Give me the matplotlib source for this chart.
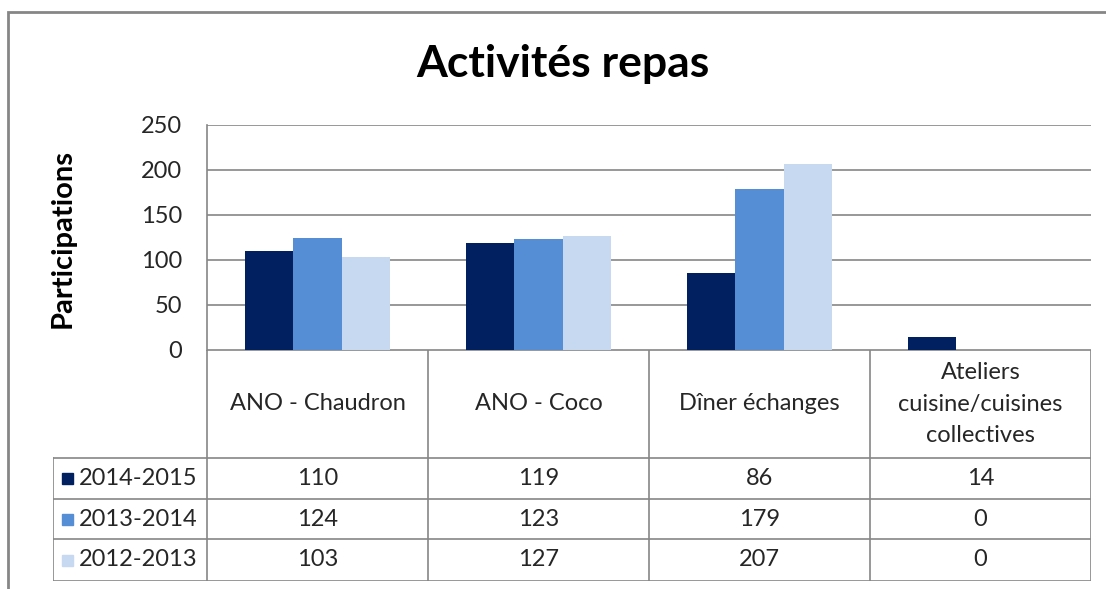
import matplotlib.pyplot as plt
from matplotlib.patches import Rectangle
import numpy as np

plt.rcParams['font.family'] = ['Lato', 'DejaVu Sans']

categories = ['ANO - Chaudron', 'ANO - Coco', 'Dîner échanges',
              'Ateliers\ncuisine/cuisines\ncollectives']
series = ['2014-2015', '2013-2014', '2012-2013']
v_2014_2015 = [110, 119, 86, 14]
v_2013_2014 = [124, 123, 179, 0]
v_2012_2013 = [103, 127, 207, 0]
colors = ['#002060', '#558ED5', '#C6D9F1']
y_ticks = [0, 50, 100, 150, 200, 250]

values = [v_2014_2015, v_2013_2014, v_2012_2013]
W, H = 1106, 589
GRID = '#868686'
TXT = '#262626'
FS = 17

fig = plt.figure(figsize=(W / 100, H / 100), dpi=100)

# chart frame (Excel chart area border, cut off on right/bottom)
fig.patches.append(Rectangle((8 / W, -0.1), 1.2, (H - 12) / H + 0.1,
                             transform=fig.transFigure, fill=False,
                             edgecolor=GRID, lw=2))

fig.text(563 / W, 1 - 64 / H, 'Activités repas', ha='center', va='center',
         fontsize=32, fontweight='bold', color='black')

# plot area
left, right, top, bottom = 207, 1091, 125, 350
ax = fig.add_axes([left / W, 1 - bottom / H, (right - left) / W, (bottom - top) / H])
x = np.arange(len(categories))
bw = 0.22
for i, (vals, c) in enumerate(zip(values, colors)):
    ax.bar(x + (i - 1) * bw, vals, width=bw, color=c, zorder=3)
ax.set_xlim(-0.5, len(categories) - 0.5)
ax.set_ylim(0, 250)
ax.set_yticks(y_ticks)
ax.yaxis.grid(True, color=GRID, lw=1.2, zorder=0)
ax.tick_params(axis='y', length=0, labelsize=FS, pad=18, colors=TXT)
ax.tick_params(axis='x', length=0, labelbottom=False)
for s in ['top', 'right', 'bottom']:
    ax.spines[s].set_visible(False)
ax.spines['left'].set_color(GRID)
ax.spines['left'].set_linewidth(1.2)
fig.text(63 / W, 1 - 238 / H, 'Participations', rotation=90, ha='center',
         va='center', fontsize=21, fontweight='bold', color='black')

# data table
t_left, t_bottom = 53, 581
row_h = [108, 41, 40, 42]  # header, then one row per series
ax_t = fig.add_axes([t_left / W, 1 - t_bottom / H, (right - t_left) / W, (t_bottom - bottom) / H])
cat_px = (right - left) / len(categories)
ax_t.set_xlim(-0.5 - (left - t_left) / cat_px, len(categories) - 0.5)
ax_t.set_ylim(0, t_bottom - bottom)
ax_t.axis('off')
lc = dict(color=GRID, lw=1.2)
label_left = -0.5 - (left - t_left) / cat_px
edges = [sum(row_h) - sum(row_h[:k]) for k in range(len(row_h) + 1)]
ax_t.plot([-0.5, len(categories) - 0.5], [edges[0]] * 2, **lc)
for k in range(1, len(edges)):
    ax_t.plot([label_left, len(categories) - 0.5], [edges[k]] * 2, **lc)
for j in range(len(categories) + 1):
    ax_t.plot([j - 0.5] * 2, [edges[-1], edges[0]], **lc)
ax_t.plot([label_left] * 2, [edges[-1], edges[1]], **lc)

for j, cat in enumerate(categories):
    ax_t.text(j, (edges[0] + edges[1]) / 2, cat, ha='center', va='center',
              fontsize=FS, color=TXT, linespacing=1.6)
sq = 11 / cat_px
for r, (name, vals, c) in enumerate(zip(series, values, colors)):
    yc = (edges[r + 1] + edges[r + 2]) / 2
    ax_t.add_patch(Rectangle((label_left + 9 / cat_px, yc - 5.5), sq, 11, color=c))
    ax_t.text(label_left + 26 / cat_px, yc, name, ha='left', va='center',
              fontsize=FS, color=TXT)
    for j, v in enumerate(vals):
        ax_t.text(j, yc, str(v), ha='center', va='center', fontsize=FS, color=TXT)

fig.savefig('out.png', dpi=100)
